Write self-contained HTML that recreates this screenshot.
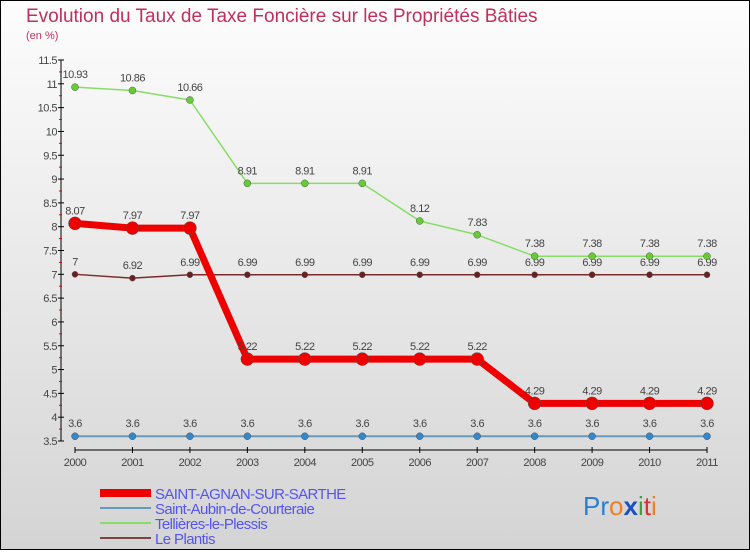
<!DOCTYPE html>
<html><head><meta charset="utf-8"><style>
html,body{margin:0;padding:0}
body{width:750px;height:550px;overflow:hidden;font-family:"Liberation Sans",sans-serif}
</style></head><body>
<svg width="750" height="550" xmlns="http://www.w3.org/2000/svg">
<defs><linearGradient id="bg" x1="0" y1="0" x2="0" y2="1"><stop offset="0" stop-color="#fdfdfd"/><stop offset="1" stop-color="#d4d4d4"/></linearGradient></defs>
<rect x="0.5" y="0.5" width="749" height="549" fill="url(#bg)" stroke="#000"/>
<text x="26" y="22" font-size="19" fill="#c0305a">Evolution du Taux de Taxe Foncière sur les Propriétés Bâties</text>
<text x="26" y="39" font-size="11" fill="#c0305a">(en %)</text>
<g id="axes"></g>
<g id="series"></g>
<g id="legend"></g>
<text x="583" y="515" font-size="26"><tspan fill="#2a7fd0">Pr</tspan><tspan fill="#f08020">o</tspan><tspan fill="#1a50c0" font-weight="bold">x</tspan><tspan fill="#40a040">i</tspan><tspan fill="#e03030">t</tspan><tspan fill="#f08020">i</tspan></text>
</svg>
<script>
const years=[2000,2001,2002,2003,2004,2005,2006,2007,2008,2009,2010,2011];
const yTicks=[3.5,4,4.5,5,5.5,6,6.5,7,7.5,8,8.5,9,9.5,10,10.5,11,11.5];
const names=["SAINT-AGNAN-SUR-SARTHE","Saint-Aubin-de-Courteraie","Tellières-le-Plessis","Le Plantis"];
const saintAgnan=[8.07,7.97,7.97,5.22,5.22,5.22,5.22,5.22,4.29,4.29,4.29,4.29];
const saintAubin=[3.6,3.6,3.6,3.6,3.6,3.6,3.6,3.6,3.6,3.6,3.6,3.6];
const tellieres=[10.93,10.86,10.66,8.91,8.91,8.91,8.12,7.83,7.38,7.38,7.38,7.38];
const lePlantis=[7,6.92,6.99,6.99,6.99,6.99,6.99,6.99,6.99,6.99,6.99,6.99];
const NS="http://www.w3.org/2000/svg";
const xPos=i=>75+i*(632/11);
const yPos=v=>441-(v-3.5)*(381/8);
function mk(t,a,p){const e=document.createElementNS(NS,t);for(const k in a)e.setAttribute(k,a[k]);p.appendChild(e);return e;}
const ax=document.getElementById('axes');
let l=mk('line',{x1:61,y1:yPos(11.5),x2:61,y2:yPos(3.5),stroke:'#000'},ax);


yTicks.forEach(v=>{
 mk('line',{x1:58,y1:yPos(v),x2:64,y2:yPos(v),stroke:'#000'},ax);
 mk('line',{x1:59,y1:yPos(v+0.25),x2:62,y2:yPos(v+0.25),stroke:v<11.5?'#d00':'none'},ax);
 const t=mk('text',{x:57,y:yPos(v)+4,'font-size':11,'text-anchor':'end',fill:'#444','letter-spacing':'-0.5'},ax);
 t.textContent=String(v);
 
 
});
l=mk('line',{x1:75,y1:450,x2:707,y2:450,stroke:'#000'},ax);


years.forEach((y,i)=>{
 mk('line',{x1:xPos(i),y1:447,x2:xPos(i),y2:453,stroke:'#000'},ax);
 const t=mk('text',{x:xPos(i),y:466,'font-size':11,'text-anchor':'middle',fill:'#444','letter-spacing':'-0.5'},ax);
 t.textContent=String(y);
 
 
});
const sg=document.getElementById('series');
function series(vals,color,w,r,name,fill){
 const g=mk('g',{},sg);
 
 
 mk('polyline',{points:vals.map((v,i)=>xPos(i)+','+yPos(v)).join(' '),fill:'none',stroke:color,'stroke-width':w,'stroke-linejoin':'round'},g);
 vals.forEach((v,i)=>{
  const c=mk('circle',{cx:xPos(i),cy:yPos(v),r:r,fill:fill,stroke:'#555','stroke-width':0.5},g);
  
  
  const t=mk('text',{x:xPos(i),y:yPos(v)-9,'font-size':11,'text-anchor':'middle',fill:'#444','letter-spacing':'-0.5'},g);
  t.textContent=String(v);
  
  
 });
}
series(lePlantis,'#7a2a2a',1.5,3,'le-plantis-series','#6a2020');
series(tellieres,'#88dd66',1.5,3.5,'tellieres-series','#66cc33');
series(saintAubin,'#6699bb',2,3.5,'saint-aubin-series','#3388cc');
series(saintAgnan,'#ee0000',7,6.5,'saint-agnan-series','#ee0000');
const lg=document.getElementById('legend');
const cols=['#ee0000','#6699bb','#88dd66','#7a4444'];
const ws=[8,2,2,2];
names.forEach((n,i)=>{
 const y=493+i*15;
 const g=mk('g',{},lg);
 
 
 mk('line',{x1:100,y1:y,x2:151,y2:y,stroke:cols[i],'stroke-width':ws[i]},g);
 const t=mk('text',{x:155,y:y+6,'font-size':15,fill:'#5555ee','letter-spacing':'-0.6'},g);
 t.textContent=n;
});
</script>
</body></html>
